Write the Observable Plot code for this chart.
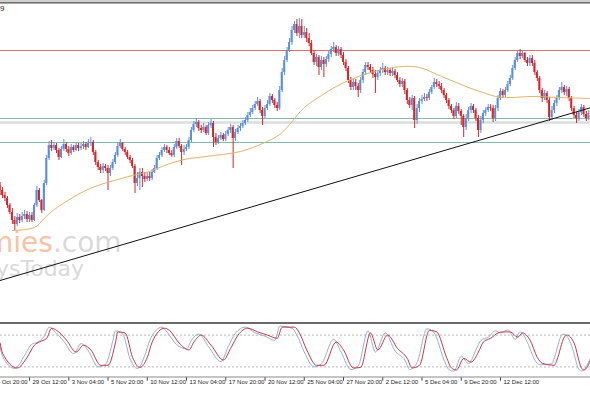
<!DOCTYPE html>
<html><head><meta charset="utf-8">
<script src="https://cdn.jsdelivr.net/npm/d3@7"></script>
<script src="https://cdn.jsdelivr.net/npm/@observablehq/plot@0.6"></script>
<style>
html,body{margin:0;padding:0;background:#fff;overflow:hidden}
#chart{position:relative;width:590px;height:393px;overflow:hidden}
#chart svg{display:block;overflow:hidden}
</style></head><body><div id="chart"></div>
<script>
// H4 bars, index 0 = 27 Oct 12:00 ; prices in points (arbitrary units)
const firstOpen = 145;
const closes = [
140,135,132,125,118,110,106,113,110,114,
116,111,115,110,125,140,130,120,147,172,
185,182,185,180,173,181,186,181,177,183,
180,185,182,184,186,183,187,188,178,168,
163,160,164,162,157,162,168,175,184,187,
181,178,173,170,164,147,152,158,154,151,
154,152,158,162,172,175,180,183,180,177,
175,183,189,184,178,181,183,190,200,206,
208,202,200,203,197,205,207,193,188,192,
195,191,196,200,203,192,198,202,204,207,
210,215,218,222,226,229,220,214,222,226,
234,230,225,222,240,258,270,280,288,300,
306,297,304,295,298,292,287,277,268,273,
263,270,266,271,276,281,283,277,281,275,
268,262,250,243,248,244,240,250,258,265,
263,260,256,253,257,260,262,258,260,257,
259,255,250,246,249,240,230,225,232,210,
222,229,231,233,232,238,243,248,246,244,
240,235,230,224,220,214,224,219,214,203,
212,220,224,220,212,200,210,217,220,223,
222,212,222,232,239,235,240,246,252,262,
270,277,274,277,270,267,272,267,258,252,
240,232,237,230,213,220,227,232,240,243,
238,241,232,222,215,212,218,223,216,212,
217];
const highs = [
148,143,138,134,127,122,114,117,116,118,
120,119,118,118,127,144,142,131,150,175,
189,190,188,187,182,184,191,188,184,186,
185,188,187,187,189,188,191,193,190,180,
170,166,167,166,165,165,171,178,188,191,
188,183,180,175,172,166,158,162,162,158,
158,158,161,165,175,178,183,186,185,183,
180,186,192,192,186,185,186,193,203,209,
212,210,205,207,205,208,211,209,197,195,
198,197,199,203,206,205,201,205,207,210,
213,218,222,225,229,233,231,223,225,230,
237,236,232,228,244,262,274,283,292,304,
309,311,312,311,304,302,297,290,280,276,
275,274,273,274,279,284,288,285,284,283,
278,271,264,253,252,251,247,253,261,268,
268,266,263,260,260,263,267,264,263,262,
263,261,258,253,252,251,242,233,235,234,
226,232,235,237,236,241,245,252,251,249,
247,242,237,232,226,222,228,227,221,216,
216,223,227,226,222,215,214,220,223,226,
226,225,225,235,242,241,243,249,255,265,
273,280,281,280,278,273,275,275,270,260,
254,242,240,239,233,224,230,235,243,248,
245,244,243,234,224,218,221,226,225,219,
220];
const lows = [
135,132,129,122,116,106,100,104,107,108,
111,108,108,108,109,123,128,117,119,145,
170,179,180,177,170,172,179,178,174,175,
178,179,179,180,181,180,182,184,175,165,
160,157,157,159,140,154,160,166,173,182,
179,175,171,167,162,137,144,140,143,148,
149,149,150,157,160,170,173,178,177,175,
173,173,181,182,165,175,179,181,188,198,
203,199,197,198,195,195,202,183,185,186,
190,189,189,194,197,162,189,196,199,202,
205,208,213,216,220,224,217,205,212,220,
224,227,222,219,220,238,255,268,278,285,
297,294,292,292,292,288,284,275,265,264,
255,260,253,263,268,273,278,274,274,272,
265,259,247,240,240,240,233,237,247,255,
260,257,252,237,250,254,257,255,255,254,
254,252,248,243,243,236,226,222,220,202,
206,218,226,229,229,230,236,241,243,241,
237,232,227,221,217,211,212,216,205,193,
200,209,217,217,209,193,197,207,214,218,
219,208,209,219,230,232,233,238,244,250,
260,268,271,272,268,264,264,264,255,249,
237,228,230,227,209,210,217,224,230,237,
235,234,229,219,212,207,209,215,213,209,
210];
// moving average samples [bar, value]
const maPoints = [[5,100],[14,103],[18,112],[21,119],[27,129],[34,139],[41,146],[48,151],[54,155],[61,159],[67,165],[75,171],[84,174],[98,179],[107,187],[114,196],[118,206],[124,223],[131,235],[137,244],[144,252],[151,258],[158,262],[164,264],[171,263],[180,254],[186,248],[192,242],[197,238],[202,234],[208,233],[217,234],[228,233],[241,232]];
// trend line anchors [bar, value]
const trendPoints = [[0,50],[241,223]];
const resistance = [280];
const supports = [212,188];
const zone = [208];
// stochastic oscillator samples [bar, value]
const stochSignal = [[0,65],[1,46],[7,18],[11,38],[14,61],[16,67],[19,74],[21,93],[23,89],[27,71],[31,48],[34,61],[37,52],[41,23],[44,23],[47,65],[48,86],[51,84],[54,38],[57,19],[60,38],[62,67],[67,93],[69,89],[73,65],[77,52],[79,67],[82,80],[86,61],[91,33],[94,55],[97,80],[101,93],[105,86],[109,80],[113,74],[115,95],[120,95],[122,84],[125,52],[129,23],[132,23],[137,67],[140,52],[144,18],[147,19],[151,84],[154,52],[158,80],[162,55],[166,36],[168,18],[171,23],[175,89],[178,86],[182,38],[184,18],[186,14],[189,36],[192,29],[195,48],[197,67],[200,74],[203,84],[205,86],[208,86],[211,76],[213,84],[216,71],[219,38],[221,27],[226,23],[227,33],[230,76],[231,80],[234,65],[237,18],[238,14],[241,36]];
const stochMain = [[0,58],[1,40],[6,17],[10,42],[13,63],[15,66],[18,78],[20,95],[22,88],[26,68],[30,45],[33,64],[36,50],[40,20],[43,25],[46,70],[47,88],[50,82],[53,35],[56,17],[59,42],[61,70],[66,95],[68,86],[72,62],[76,54],[78,70],[81,82],[85,58],[90,30],[93,58],[96,84],[100,95],[104,84],[108,78],[112,70],[114,97],[119,93],[121,80],[124,48],[128,20],[131,26],[136,72],[139,48],[143,15],[146,22],[150,88],[153,48],[157,84],[161,50],[165,33],[167,15],[170,28],[174,92],[177,84],[181,33],[183,15],[185,12],[188,40],[191,26],[194,52],[196,70],[199,76],[202,88],[204,84],[207,90],[210,72],[212,86],[215,66],[218,33],[220,24],[225,26],[226,38],[229,80],[230,82],[233,60],[236,15],[237,12],[241,40]];
const stochLevels = [20, 80];
const tickBars = [-4,12,28,44,60,76,92,108,124,140,156,172,188,204];
const tickLabels = ["24 Oct 20:00","29 Oct 12:00","3 Nov 04:00","5 Nov 20:00","10 Nov 12:00","13 Nov 04:00","17 Nov 20:00","20 Nov 12:00","25 Nov 04:00","27 Nov 20:00","2 Dec 12:00","5 Dec 04:00","9 Dec 20:00","12 Dec 12:00"];

const bars = closes.map((c, i) => ({i, o: i ? closes[i - 1] : firstOpen, c, h: highs[i], l: lows[i]}));
const upBars = bars.filter(b => b.c >= b.o);
const downBars = bars.filter(b => b.c < b.o);
const BLUE = "#5b8fdb", RED = "#d4262b";
const X = {domain: [0, 240], range: [-0.4, 588.3]};

const main = Plot.plot({
  width: 590, height: 322, margin: 0,
  style: {background: "white"},
  x: {...X, axis: null},
  y: {domain: [10, 327], range: [320, 3], axis: null},
  marks: [
    Plot.ruleY(zone, {stroke: "#dcdcdc", strokeWidth: 2.5}),
    Plot.ruleY(supports, {stroke: "#86b8a8", strokeWidth: 1}),
    Plot.ruleY(resistance, {stroke: "#d9716f", strokeWidth: 1}),
    Plot.ruleX(upBars, {x: "i", y1: "l", y2: "h", stroke: BLUE, strokeWidth: 1}),
    Plot.ruleX(downBars, {x: "i", y1: "l", y2: "h", stroke: RED, strokeWidth: 1}),
    Plot.rect(upBars, {x1: d => d.i - 0.4, x2: d => d.i + 0.4, y1: "o", y2: "c", fill: BLUE}),
    Plot.rect(downBars, {x1: d => d.i - 0.4, x2: d => d.i + 0.4, y1: "o", y2: "c", fill: RED}),
    Plot.line(maPoints, {x: d => d[0], y: d => d[1], curve: "catmull-rom", stroke: "#e2b26a", strokeWidth: 1}),
    Plot.line(trendPoints, {x: d => d[0], y: d => d[1], stroke: "#111", strokeWidth: 1})
  ]
});

const stoch = Plot.plot({
  width: 590, height: 71, marginTop: 2, marginBottom: 16, marginLeft: 0, marginRight: 0,
  style: {background: "white"},
  x: {...X, axis: null},
  y: {domain: [0, 100], axis: null},
  marks: [
    Plot.ruleY(stochLevels, {stroke: "#b8b8b8", strokeDasharray: "2,2"}),
    Plot.line(stochMain, {x: d => d[0], y: d => d[1], curve: "monotone-x", stroke: "#9aaed0", strokeWidth: 1}),
    Plot.line(stochSignal, {x: d => d[0], y: d => d[1], curve: "monotone-x", stroke: "#c23a44", strokeWidth: 1}),
    Plot.ruleX(tickBars, {x: d => d, y1: 0, y2: -7, stroke: "#444"}),
    Plot.text(tickBars, {x: d => d, text: (d, i) => tickLabels[i], frameAnchor: "bottom", textAnchor: "start", dx: 3, dy: 6, fontSize: 6, fontFamily: "Liberation Sans, Arial, sans-serif", fill: "#222"})
  ]
});

const root = document.getElementById("chart");
root.appendChild(main);
root.appendChild(stoch);

// chart frame decorations and watermark
const ms = d3.select(main);
const wm = ms.insert("g", ":first-child").attr("font-family", "DejaVu Sans, sans-serif").attr("text-anchor", "start");
wm.append("text").attr("x", -14).attr("y", 252).attr("font-size", 28)
  .call(t => { t.append("tspan").attr("fill", "#f6c3a6").text("mies"); t.append("tspan").attr("fill", "#dadada").text(".com"); });
wm.append("text").attr("x", -4).attr("y", 276).attr("font-size", 22).attr("fill", "#dadada").text("ysToday");
ms.append("rect").attr("x", 0).attr("y", 0).attr("width", 590).attr("height", 2).attr("fill", "#d0d0d0");
ms.append("rect").attr("x", 0).attr("y", 2).attr("width", 590).attr("height", 1.6).attr("fill", "#707070");
ms.append("text").attr("x", 0).attr("y", 11).attr("text-anchor", "start").attr("font-size", 8).attr("font-family", "Liberation Sans, Arial, sans-serif").attr("fill", "#222").text("9");
const ss = d3.select(stoch);
ss.append("rect").attr("x", 0).attr("y", 0).attr("width", 590).attr("height", 2).attr("fill", "#6a6a6a");
ss.append("rect").attr("x", 0).attr("y", 54.5).attr("width", 590).attr("height", 1).attr("fill", "#8a8a8a");
</script></body></html>
